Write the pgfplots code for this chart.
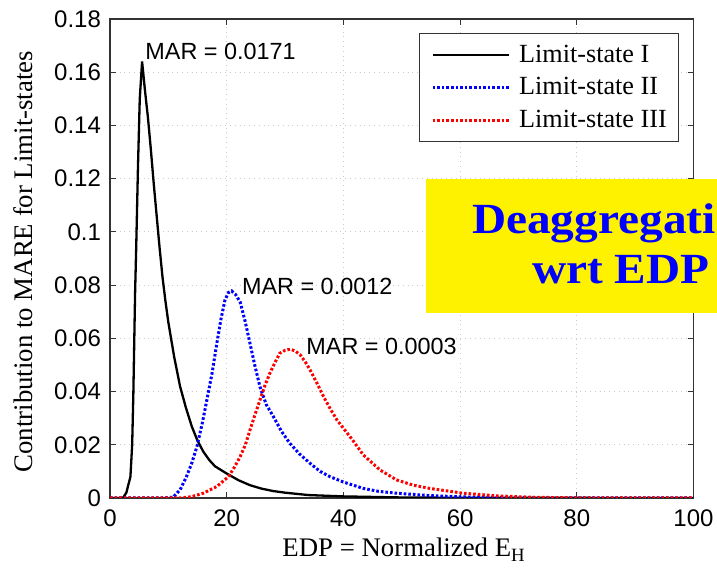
\documentclass[border=0pt]{standalone}
\usepackage{pgfplots}
\pgfplotsset{compat=1.18}
\usepackage{fontspec}
\setmainfont{Liberation Serif}
\newfontfamily\arialf{Liberation Sans}
\usepackage{graphicx}

\pgfplotstableread{
x y
0 0
2.2 0
2.8 0.002
3.5 0.008
3.8 0.02
4.0 0.039
4.3 0.077
4.5 0.095
4.8 0.125
5.1 0.150
5.5 0.164
6.0 0.153
6.5 0.143
7.0 0.131
7.5 0.118
8.0 0.106
8.5 0.094
9.0 0.083
9.5 0.074
10.0 0.066
11.0 0.053
12.0 0.042
13.0 0.034
14.0 0.027
15.0 0.0215
16.0 0.0174
17.0 0.0143
18.0 0.0119
20.0 0.0092
22.0 0.0067
24.0 0.0048
26.0 0.0035
28.0 0.0026
30.0 0.0020
34.0 0.0011
40.0 0.0006
50.0 0.0002
60 0.00008
100 0
}\lsone

\pgfplotstableread{
x y
0 0
9 0
10.8 0.0003
12 0.003
13.1 0.008
14 0.013
14.9 0.0193
15.8 0.028
16.6 0.0368
17.5 0.047
18.3 0.058
19.0 0.067
19.7 0.0744
20.3 0.0772
20.85 0.0778
21.5 0.0765
22.3 0.0737
23.2 0.066
24.0 0.058
24.8 0.050
25.7 0.0418
26.8 0.035
28.0 0.0306
29.4 0.025
30.8 0.0206
32.5 0.0165
34.3 0.013
36 0.010
37.7 0.008
40 0.006
43.4 0.0036
46 0.0025
49.1 0.0018
54.8 0.0009
60.6 0.0004
66 0.0002
75 0.00005
100 0
}\lstwo

\pgfplotstableread{
x y
0 0
12 0
14 0.0005
16 0.0018
18.3 0.0043
20.3 0.008
21.3 0.0115
22.3 0.0155
23.2 0.020
24.0 0.0256
24.8 0.031
25.7 0.0368
26.5 0.042
27.4 0.0469
28.3 0.051
29.1 0.0544
30.0 0.0555
30.85 0.0559
31.7 0.0553
32.6 0.0538
33.5 0.051
34.3 0.0481
35.5 0.043
36.6 0.0381
37.7 0.0337
38.9 0.0293
40.0 0.0262
41.5 0.022
43.4 0.0162
46.3 0.0105
49.1 0.0068
52 0.0048
54.8 0.0036
60.5 0.0018
66.3 0.0008
72 0.0003
78 0.0001
85 0
100 0
}\lsthree

\begin{document}
\begin{tikzpicture}
\useasboundingbox (-55pt,-39pt) rectangle (303.5pt,249pt);
\begin{axis}[
  at={(0,0)}, anchor=south west,
  scale only axis,
  width=291.75pt, height=239.5pt,
  xmin=0, xmax=100, ymin=0, ymax=0.18,
  xtick={0,20,40,60,80,100},
  ytick={0,0.02,0.04,0.06,0.08,0.1,0.12,0.14,0.16,0.18},
  scaled y ticks=false,
  y tick label style={/pgf/number format/fixed, /pgf/number format/precision=2},
  /pgf/number format/assume math mode=true,
  ticklabel style={font=\arialf\fontsize{12}{14}\selectfont},
  xticklabel style={yshift=-2.5pt},
  yticklabel style={xshift=-1pt},
  tick align=inside,
  major tick length=3pt,
  tick style={black!80, line width=0.5pt},
  axis line style={black!80, line width=0.6pt},
  grid=major,
  major grid style={gray!40, dotted, line width=0.5pt},
  xlabel={EDP = Normalized E\textsubscript{H}},
  ylabel={Contribution to MARE for Limit-states},
  label style={font=\fontsize{13.4}{15}\selectfont},
  x label style={at={(axis description cs:0.504,-0.123)}, anchor=base},
  y label style={at={(axis description cs:-0.132,0.4933)}, anchor=base, rotate=0},
  legend style={at={(axis description cs:0.9757,0.970)}, anchor=north east,
    draw=black!80, line width=0.5pt, fill=white,
    font=\fontsize{13.1}{15}\selectfont,
    inner xsep=6pt, inner ysep=5.6pt, row sep=6.1pt,
    nodes={inner sep=0pt, anchor=west},
    /tikz/every odd column/.append style={column sep=4.5pt}},
  legend cell align=left,
  legend image code/.code={\draw[#1] (0pt,0pt) -- (38pt,0pt);},
]
\addplot[black, line width=1.15pt] table[x=x,y=y] {\lsone};
\addlegendentry{Limit-state I}
\addplot[blue, line width=1.5pt, dash pattern=on 1.3pt off 1pt] table[x=x,y=y] {\lstwo};
\addlegendentry{Limit-state II}
\addplot[red, line width=1.5pt, dash pattern=on 1.3pt off 1pt] table[x=x,y=y] {\lsthree};
\addlegendentry{Limit-state III}

\node[anchor=base west, inner sep=0pt, font=\arialf\fontsize{11.7}{14}\selectfont] at (axis cs:6.0,0.1647) {MAR = 0.0171};
\node[anchor=base west, inner sep=0pt, font=\arialf\fontsize{11.7}{14}\selectfont] at (axis cs:22.57,0.0763) {MAR = 0.0012};
\node[anchor=base west, inner sep=0pt, font=\arialf\fontsize{11.7}{14}\selectfont] at (axis cs:33.6,0.0540) {MAR = 0.0003};
\end{axis}
\fill[yellow] (158pt,92.35pt) rectangle (320pt,159.35pt);
\node[anchor=base west, inner sep=0pt, text=blue, font=\bfseries\fontsize{21.5}{24}\selectfont] at (180.85pt,132.35pt) {\scalebox{1.1}[1]{Deaggregati}};
\node[anchor=base west, inner sep=0pt, text=blue, font=\bfseries\fontsize{21.5}{24}\selectfont] at (210.85pt,107.35pt) {\scalebox{1.1}[1]{wrt EDP}};
\end{tikzpicture}
\end{document}
